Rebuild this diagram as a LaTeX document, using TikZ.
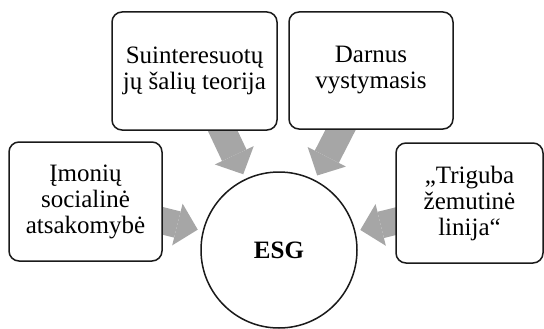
\documentclass[tikz,border=0pt]{standalone}
\usepackage{fontspec}
\setmainfont{Liberation Serif}
\usetikzlibrary{arrows.meta,backgrounds}
\definecolor{arrowgray}{HTML}{A6A6A6}
\definecolor{edge}{HTML}{1A1A1A}
\tikzset{
  idea/.style={draw=edge, line width=1.5pt, rounded corners=10pt, fill=white,
    inner sep=0pt, align=center, font=\fontsize{25}{26}\selectfont},
  core/.style={draw=edge, line width=1.5pt, circle, fill=white, inner sep=0pt,
    minimum size=156pt, font=\bfseries\fontsize{25}{26}\selectfont},
  blockarrow/.style={draw=arrowgray, line width=27pt, shorten >=5pt,
    -{Triangle[length=21pt,width=43pt,line width=0pt,fill=arrowgray]}},
}
\begin{document}
\begin{tikzpicture}[x=1pt,y=-1pt]
\useasboundingbox (0,0) rectangle (544,329);
\node[idea, minimum width=153pt, minimum height=119pt] (csr) at (85.5,201.5) {Įmonių\\socialinė\\atsakomybė};
\node[idea, minimum width=165pt, minimum height=118pt] (stake) at (194.5,71) {Suinteresuotų\\jų šalių teorija};
\node[idea, minimum width=164pt, minimum height=117pt] (sust) at (371,70.5) {Darnus\\vystymasis};
\node[idea, minimum width=147pt, minimum height=120pt] (tbl) at (469.5,203) {„Triguba\\žemutinė\\linija“};
\node[core] (esg) at (279,250) {ESG};
\begin{scope}[on background layer]
\draw[blockarrow] (csr.center) -- (esg);
\draw[blockarrow] (stake.center) -- (esg);
\draw[blockarrow] (sust.center) -- (esg);
\draw[blockarrow] (tbl.center) -- (esg);
\end{scope}
\end{tikzpicture}
\end{document}
